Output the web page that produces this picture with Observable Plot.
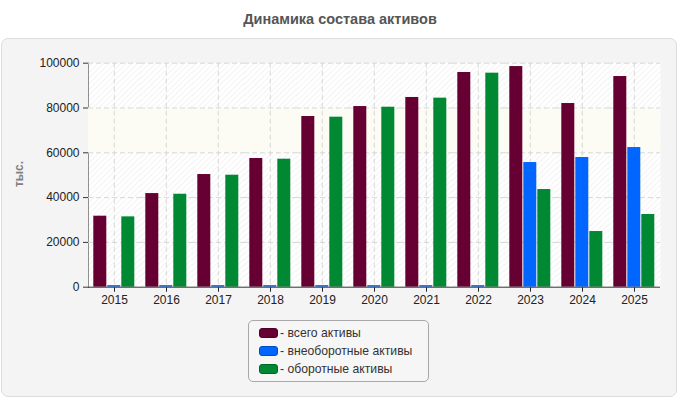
<!DOCTYPE html>
<html>
<head>
<meta charset="utf-8">
<script src="https://cdn.jsdelivr.net/npm/d3@7"></script>
<script src="https://cdn.jsdelivr.net/npm/@observablehq/plot@0.6"></script>
<style>
  html, body { margin: 0; padding: 0; background: #ffffff; }
  #wrap { position: relative; width: 680px; height: 400px; font-family: "Liberation Sans", Arial, sans-serif; overflow: hidden; }
  #panel { position: absolute; left: 1px; top: 38px; width: 674px; height: 357px; background: #f4f4f4; border: 1px solid #dddddd; border-radius: 7px; }
  #title { position: absolute; left: 0; top: 11px; width: 680px; text-align: center; font-size: 14.5px; font-weight: bold; color: #555555; }
  #ylabel { position: absolute; left: 19px; top: 174px; transform: translate(-50%, -50%) rotate(-90deg); font-size: 12px; font-weight: bold; color: #808080; white-space: nowrap; }
  #chart { position: absolute; left: 0; top: 0; }
  #legend { position: absolute; left: 248px; top: 320px; width: 181px; height: 62px; border: 1px solid #a8a8a8; border-radius: 5px; background: #f6f6f6; box-sizing: border-box; padding-top: 3px; }
  .item { display: flex; align-items: center; height: 18px; font-size: 12.2px; color: #333333; padding-left: 10px; }
  .sw { width: 17px; height: 8px; border-radius: 3px; margin-right: 2px; }
</style>
</head>
<body>
<div id="wrap">
  <div id="panel"></div>
  <div id="title">Динамика состава активов</div>
  <div id="ylabel">тыс.</div>
  <div id="chart"></div>
  <div id="legend"></div>
</div>
<script>
const years = [2015, 2016, 2017, 2018, 2019, 2020, 2021, 2022, 2023, 2024, 2025];
const seriesNames = ["всего активы", "внеоборотные активы", "оборотные активы"];
const seriesColors = ["#660033", "#0066ff", "#008833"];
const totalAssets   = [31700, 41800, 50300, 57450, 76200, 80650, 84700, 95850, 98500, 82000, 94050];
const nonCurrent    = [700, 700, 700, 700, 700, 700, 700, 700, 55650, 57900, 62350];
const currentAssets = [31400, 41500, 50000, 57150, 75900, 80350, 84400, 95550, 43600, 24850, 32450];
const yTicks = [0, 20000, 40000, 60000, 80000, 100000];
const shadedBands = [[60000, 80000]];

const seriesValues = [totalAssets, nonCurrent, currentAssets];
const data = [];
years.forEach((yr, i) => {
  seriesNames.forEach((s, k) => data.push({year: yr, series: s, value: seriesValues[k][i]}));
});

const chart = Plot.plot({
  width: 680,
  height: 400,
  marginTop: 62.7,
  marginBottom: 113.3,
  marginLeft: 86.7,
  marginRight: 19.3,
  style: {background: "transparent", fontFamily: "'Liberation Sans', Arial, sans-serif", fontSize: "12px", color: "#222"},
  fx: {domain: years, padding: 0, label: null, axis: "bottom", tickSize: 5, tickPadding: 3, tickFormat: d => String(d)},
  x: {domain: seriesNames, axis: null, paddingInner: 0.067, paddingOuter: 0.28},
  y: {domain: [0, 100000], ticks: yTicks, tickFormat: d => String(d), label: null, line: true, tickSize: 5, tickPadding: 4},
  color: {domain: seriesNames, range: seriesColors},
  marks: [
    Plot.frame({fill: "url(#hatch)", stroke: null}),
    Plot.rectY(shadedBands, {y1: d => d[0], y2: d => d[1], fill: "#fcfcf5"}),
    Plot.ruleY(yTicks.slice(1), {stroke: "#d8d8d8", strokeDasharray: "5,3"}),
    Plot.ruleX([seriesNames[1]], {x: d => d, stroke: "#d8d8d8", strokeDasharray: "5,3"}),
    Plot.barY(data, {fx: "year", x: "series", y: "value", fill: "series"}),
    Plot.ruleY([0], {stroke: "#333"})
  ]
});

// hatch pattern definition
const ns = "http://www.w3.org/2000/svg";
const defs = document.createElementNS(ns, "defs");
defs.innerHTML = '<pattern id="hatch" patternUnits="userSpaceOnUse" width="4" height="4" patternTransform="rotate(45)">' +
  '<rect width="4" height="4" fill="#ffffff"/>' +
  '<line x1="0" y1="0" x2="0" y2="4" stroke="#efefef" stroke-width="1.5"/></pattern>';
chart.insertBefore(defs, chart.firstChild);
d3.select(chart).selectAll("[aria-label='y-axis'] path, [aria-label='y-axis tick'] path, [aria-label='fx-axis'] path").attr("stroke", "#333");
document.getElementById("chart").appendChild(chart);

const legend = document.getElementById("legend");
seriesNames.forEach((s, k) => {
  const item = document.createElement("div");
  item.className = "item";
  item.innerHTML = '<span class="sw" style="background:' + seriesColors[k] + ';border:1px solid ' + d3.color(seriesColors[k]).darker(0.8) + '"></span>- ' + s;
  legend.appendChild(item);
});
</script>
</body>
</html>
